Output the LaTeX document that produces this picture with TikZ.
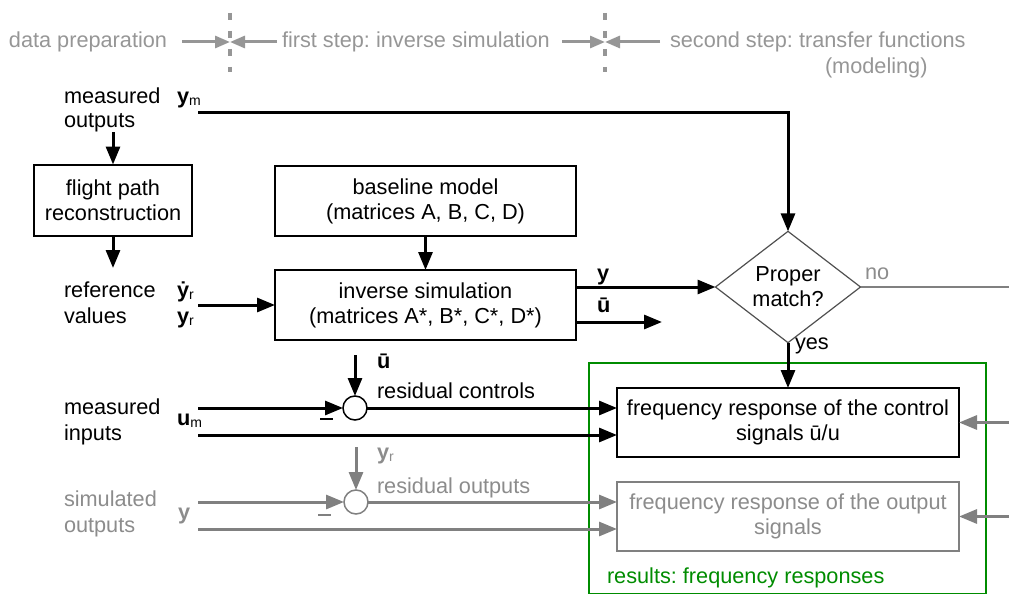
\documentclass[tikz,border=0pt]{standalone}
\usepackage{fontspec}
\setmainfont{Liberation Sans}
\usetikzlibrary{arrows.meta,shapes.geometric}
\definecolor{hdr}{RGB}{150,150,150}
\definecolor{gtxt}{RGB}{140,140,140}
\definecolor{gln}{RGB}{128,128,128}
\definecolor{grn}{RGB}{0,140,0}
\definecolor{dg}{RGB}{80,80,80}
\newcommand{\sbs}[1]{\raisebox{-2pt}{\fontsize{14}{14}\selectfont #1}}
\frenchspacing
\begin{document}
\begin{tikzpicture}[x=1pt,y=-1pt,
  every node/.style={font=\fontsize{21.7}{25}\selectfont, inner sep=0pt, outer sep=0pt},
  lbl/.style={anchor=base west},
  box/.style={draw, line width=2pt, align=center},
  ar/.style={line width=3pt, -{Triangle[length=18pt,width=14pt]}},
  gar/.style={ar, draw=gln, color=gln},
  har/.style={draw=hdr, color=hdr, line width=3pt, -{Triangle[length=15pt,width=12pt]}},
  sep/.style={draw=hdr, line width=4pt, dash pattern=on 7pt off 11pt},
  mns/.style={line width=2.5pt}
]
\useasboundingbox (0,0) rectangle (1009,594);

% ---------- header ----------
\node[lbl, hdr] (h1) at (9,48) {data preparation};
\node[lbl, hdr] (h2) at (282,48) {first step: inverse simulation};
\node[lbl, hdr] (h3) at (670,48) {second step: transfer functions};
\node[lbl, hdr] (h4) at (825,74) {(modeling)};
\coordinate (s1) at (230,42);
\coordinate (s2) at (605,42);
\draw[sep] (230,13) -- (230,72);
\draw[sep] (605,13) -- (605,72);
\draw[har] (182,42) -- (s1);
\draw[har] (277,42) -- (s1);
\draw[har] (562,42) -- (s2);
\draw[har] (660,42) -- (s2);

% ---------- boxes ----------
\node[box, minimum width=158, minimum height=71] (fpr) at (113,200) {flight path\\reconstruction};
\node[box, minimum width=301, minimum height=70] (base) at (425.5,201) {baseline model\\(matrices A, B, C, D)};
\node[box, minimum width=301, minimum height=70] (inv) at (425.5,305) {inverse simulation\\(matrices A*, B*, C*, D*)};
\node[draw=dg, line width=1.2pt, diamond, minimum width=145, minimum height=100, align=center] (dia) at (788,287) {Proper\\match?};
\node[draw=grn, line width=2pt, minimum width=397, minimum height=231] (res) at (787.5,478.5) {};
\node[box, minimum width=342, minimum height=69, fill=white] (ctrl) at (788,422.5) {frequency response of the control\\signals ū/u};
\node[box, draw=gln, text=gtxt, minimum width=342, minimum height=69, fill=white] (outb) at (788,516.5) {frequency response of the output\\signals};
\node[lbl, grn] (restxt) at (607,583) {results: frequency responses};

% ---------- left labels ----------
\node[lbl] (mo1) at (64,103) {measured};
\node[lbl] (mo2) at (64,127) {outputs};
\node[lbl] (ym) at (177,103) {\textbf{y}\sbs{m}};
\node[lbl] (rv1) at (64,297) {reference};
\node[lbl] (rv2) at (64,323) {values};
\node[lbl] (ydr) at (177,297) {\textbf{\.{y}}\sbs{r}};
\node[lbl] (yr) at (177,323) {\textbf{y}\sbs{r}};
\node[lbl] (mi1) at (64,414) {measured};
\node[lbl] (mi2) at (64,440) {inputs};
\node[lbl] (um) at (177,425) {\textbf{u}\sbs{m}};
\node[lbl, gtxt] (so1) at (64,506) {simulated};
\node[lbl, gtxt] (so2) at (64,532) {outputs};
\node[lbl, gtxt] (ys) at (178,519) {\textbf{y}};

% ---------- circles ----------
\node[circle, draw, line width=1.5pt, minimum size=24, fill=white] (c1) at (355,408) {};
\node[circle, draw=gln, line width=1.5pt, minimum size=24, fill=white] (c2) at (356,502) {};
\node[lbl] (ubl) at (377,368) {\textbf{ū}};
\node[lbl] (rc) at (377,398) {residual controls};
\node[lbl, gtxt] (yrl) at (377,459) {\textbf{y}\sbs{r}};
\node[lbl, gtxt] (ro) at (377,493) {residual outputs};

% ---------- output labels ----------
\node[lbl] (yl) at (597,280) {\textbf{y}};
\node[lbl] (ul) at (597,312) {\textbf{ū}};
\node[lbl, gtxt] (nol) at (865,279) {no};
\node[lbl] (yesl) at (795,349) {yes};

% ---------- free ends ----------
\coordinate (ymst) at (198,112);
\coordinate (most) at (113,132);
\coordinate (rvend) at (113,268);
\coordinate (rvst) at (198,305);
\coordinate (ubend) at (662,322);
\coordinate (noend) at (1009,287);
\coordinate (ubst) at (355,355);
\coordinate (um1) at (198,408);
\coordinate (um2) at (198,435);
\coordinate (yrst) at (356,447);
\coordinate (sy1) at (198,502);
\coordinate (sy2) at (198,529);
\coordinate (rt1) at (1009,422.5);
\coordinate (rt2) at (1009,516.5);

% ---------- connectors ----------
\draw[ar] (ymst) -| (dia.north);
\draw[ar] (most) -- (fpr.north);
\draw[ar] (fpr.south) -- (rvend);
\draw[ar] (rvst) -- (inv.west);
\draw[ar] (base.south) -- (inv.north);
\draw[ar] (inv.east |- dia.west) -- (dia.west);
\draw[ar] (inv.east |- ubend) -- (ubend);
\draw[line width=2pt, gln] (dia.east) -- (noend);
\draw[ar] (dia.south) -- (ctrl.north);

\draw[ar] (ubst) -- (c1.north);
\draw[ar] (um1) -- (c1.west);
\draw[mns] (320,419) -- (333,419);
\draw[ar] (c1.east) -- (ctrl.west |- c1.east);
\draw[ar] (um2) -- (ctrl.west |- um2);
\draw[gar] (rt1) -- (ctrl.east);

\draw[gar] (yrst) -- (c2.north);
\draw[gar] (sy1) -- (c2.west);
\draw[mns, gln] (318,515) -- (331,515);
\draw[gar] (c2.east) -- (outb.west |- c2.east);
\draw[gar] (sy2) -- (outb.west |- sy2);
\draw[gar] (rt2) -- (outb.east);
\end{tikzpicture}
\end{document}
